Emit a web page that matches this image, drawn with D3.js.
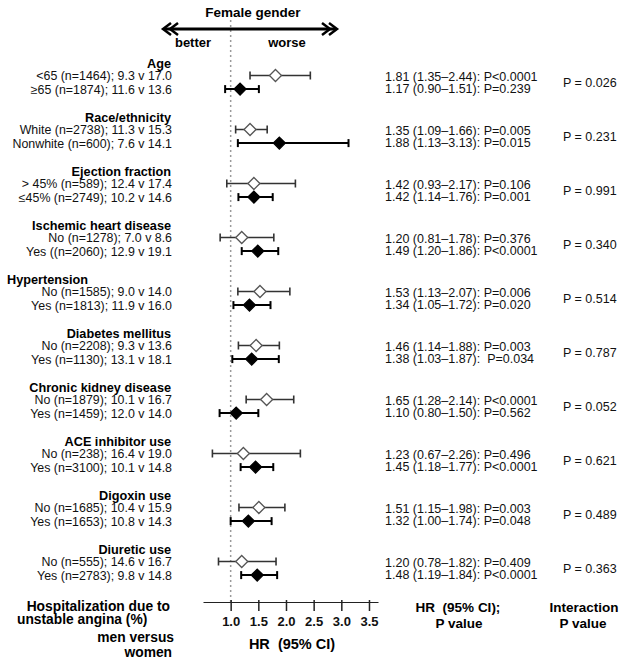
<!DOCTYPE html>
<html>
<head>
<meta charset="utf-8">
<script src="https://cdn.jsdelivr.net/npm/d3@7"></script>
<style>
  html, body { margin: 0; padding: 0; background: #fff; }
  svg { display: block; font-family: "Liberation Sans", Arial, sans-serif; }
  text { white-space: pre; }
</style>
</head>
<body>
<svg id="chart" width="624" height="663"></svg>
<script>
// ---------- data ----------
const groups = ["Age", "Race/ethnicity", "Ejection fraction", "Ischemic heart disease", "Hypertension",
  "Diabetes mellitus", "Chronic kidney disease", "ACE inhibitor use", "Digoxin use", "Diuretic use"];

const labels1 = ["<65 (n=1464); 9.3 v 17.0", "White (n=2738); 11.3 v 15.3", "> 45% (n=589); 12.4 v 17.4",
  "No (n=1278); 7.0 v 8.6", "No (n=1585); 9.0 v 14.0", "No (n=2208); 9.3 v 13.6", "No (n=1879); 10.1 v 16.7",
  "No (n=238); 16.4 v 19.0", "No (n=1685); 10.4 v 15.9", "No (n=555); 14.6 v 16.7"];
const labels2 = ["≥65 (n=1874); 11.6 v 13.6", "Nonwhite (n=600); 7.6 v 14.1", "≤45% (n=2749); 10.2 v 14.6",
  "Yes ((n=2060); 12.9 v 19.1", "Yes (n=1813); 11.9 v 16.0", "Yes (n=1130); 13.1 v 18.1", "Yes (n=1459); 12.0 v 14.0",
  "Yes (n=3100); 10.1 v 14.8", "Yes (n=1653); 10.8 v 14.3", "Yes (n=2783); 9.8 v 14.8"];

const hr1 = [1.81, 1.35, 1.42, 1.20, 1.53, 1.46, 1.65, 1.23, 1.51, 1.20];
const lo1 = [1.35, 1.09, 0.93, 0.81, 1.13, 1.14, 1.28, 0.67, 1.15, 0.78];
const hi1 = [2.44, 1.66, 2.17, 1.78, 2.07, 1.88, 2.14, 2.26, 1.98, 1.82];
const p1  = ["P<0.0001", "P=0.005", "P=0.106", "P=0.376", "P=0.006", "P=0.003", "P<0.0001", "P=0.496", "P=0.003", "P=0.409"];

const hr2 = [1.17, 1.88, 1.42, 1.49, 1.34, 1.38, 1.10, 1.45, 1.32, 1.48];
const lo2 = [0.90, 1.13, 1.14, 1.20, 1.05, 1.03, 0.80, 1.18, 1.00, 1.19];
const hi2 = [1.51, 3.13, 1.76, 1.86, 1.72, 1.87, 1.50, 1.77, 1.74, 1.84];
const p2  = ["P=0.239", "P=0.015", "P=0.001", "P<0.0001", "P=0.020", " P=0.034", "P=0.562", "P<0.0001", "P=0.048", "P<0.0001"];

const interactionP = ["0.026", "0.231", "0.991", "0.340", "0.514", "0.787", "0.052", "0.621", "0.489", "0.363"];

const tickValues = [1.0, 1.5, 2.0, 2.5, 3.0, 3.5];

// ---------- layout ----------
const svg = d3.select("#chart");
const x = d3.scaleLinear().domain([0.5, 3.663]).range([203, 378]);
const yMid = d3.scaleLinear().domain([0, groups.length - 1]).range([82.3, 568.3]);
const rowOff = 6.8, rightOff = 5.8;
const fmt = d3.format(".2f");

// reference dotted line at HR = 1
svg.append("line")
  .attr("x1", x(1)).attr("x2", x(1)).attr("y1", 20).attr("y2", 602)
  .attr("stroke", "#9a9a9a").attr("stroke-width", 1.5).attr("stroke-dasharray", "2,3");

// top annotation
svg.append("text").attr("x", 253).attr("y", 17).attr("text-anchor", "middle")
  .attr("font-weight", "bold").attr("font-size", 13.5).text("Female gender");
const ay = 29, ax0 = 163, ax1 = 337;
svg.append("line").attr("x1", ax0 + 1).attr("x2", ax1 - 1).attr("y1", ay).attr("y2", ay)
  .attr("stroke", "#000").attr("stroke-width", 3);
[[ax0, 1], [ax0 + 7, 1], [ax1, -1], [ax1 - 7, -1]].forEach(([tx, dir]) => {
  svg.append("path")
    .attr("d", `M${tx + dir * 8},${ay - 6} L${tx},${ay} L${tx + dir * 8},${ay + 6}`)
    .attr("fill", "none").attr("stroke", "#000").attr("stroke-width", 2.5);
});
svg.append("text").attr("x", 193).attr("y", 47).attr("text-anchor", "middle")
  .attr("font-weight", "bold").attr("font-size", 13).text("better");
svg.append("text").attr("x", 287).attr("y", 47).attr("text-anchor", "middle")
  .attr("font-weight", "bold").attr("font-size", 13).text("worse");

// rows
const diamond = "M0,-6 L6,0 L0,6 L-6,0 Z";
groups.forEach((g, i) => {
  const m = yMid(i);
  const gy = m - 19.3;
  const hyp = g === "Hypertension";
  svg.append("text").attr("x", hyp ? 7 : 171).attr("y", gy + 4.5)
    .attr("text-anchor", hyp ? "start" : "end")
    .attr("font-weight", "bold").attr("font-size", 12.7).text(g);

  const rows = [
    { label: labels1[i], hr: hr1[i], lo: lo1[i], hi: hi1[i], p: p1[i], y: m - rowOff, ry: m - rightOff, filled: false },
    { label: labels2[i], hr: hr2[i], lo: lo2[i], hi: hi2[i], p: p2[i], y: m + rowOff, ry: m + rightOff, filled: true }
  ];
  rows.forEach(r => {
    svg.append("text").attr("x", 172).attr("y", r.y + 4.4).attr("text-anchor", "end")
      .attr("font-size", 12.4).attr("fill", "#111").text(r.label);
    const col = r.filled ? "#000" : "#333";
    const sw = r.filled ? 2 : 1.6;
    svg.append("line").attr("x1", x(r.lo)).attr("x2", x(r.hi)).attr("y1", r.y).attr("y2", r.y)
      .attr("stroke", col).attr("stroke-width", sw);
    [r.lo, r.hi].forEach(v => {
      svg.append("line").attr("x1", x(v)).attr("x2", x(v)).attr("y1", r.y - 4).attr("y2", r.y + 4)
        .attr("stroke", col).attr("stroke-width", sw);
    });
    svg.append("path").attr("d", diamond)
      .attr("transform", `translate(${x(r.hr)},${r.y})`)
      .attr("fill", r.filled ? "#000" : "#fff")
      .attr("stroke", r.filled ? "#000" : "#555").attr("stroke-width", 1.3);
    svg.append("text").attr("x", 385).attr("y", r.ry + 4.4)
      .attr("font-size", 12.5).attr("fill", "#111")
      .text(`${fmt(r.hr)} (${fmt(r.lo)}–${fmt(r.hi)}): ${r.p}`);
  });
  svg.append("text").attr("x", 563).attr("y", m + 4.4)
    .attr("font-size", 12.5).attr("fill", "#111").text(`P = ${interactionP[i]}`);
});

// axis
const axisG = svg.append("g").attr("transform", "translate(0,602)")
  .call(d3.axisBottom(x).tickValues(tickValues).tickFormat(d3.format(".1f"))
    .tickSizeInner(9).tickSizeOuter(0).tickPadding(6));
axisG.select(".domain").attr("stroke", "#222").attr("stroke-width", 1.2);
axisG.selectAll(".tick line").attr("stroke", "#222").attr("stroke-width", 1.5).attr("y1", -2);
axisG.selectAll(".tick text").attr("font-size", 13).attr("font-weight", "bold").attr("fill", "#111")
  .attr("font-family", "Liberation Sans, Arial, sans-serif");
svg.append("text").attr("x", 292).attr("y", 649).attr("text-anchor", "middle")
  .attr("font-weight", "bold").attr("font-size", 14.5).text("HR  (95% CI)");

// bottom left title
const bl = [
  { t: "Hospitalization due to", x: 170, a: "end", y: 611 },
  { t: "unstable angina (%)", x: 17, a: "start", y: 624 },
  { t: "men versus", x: 174, a: "end", y: 642 },
  { t: "women", x: 172, a: "end", y: 657 }
];
bl.forEach(d => svg.append("text").attr("x", d.x).attr("y", d.y).attr("text-anchor", d.a)
  .attr("font-weight", "bold").attr("font-size", 13.8).text(d.t));

// right column headers
[["HR  (95% CI);", 458, 612], ["P value", 459, 628], ["Interaction", 584, 612], ["P value", 583, 628]]
  .forEach(([t, cx, cy]) => svg.append("text").attr("x", cx).attr("y", cy).attr("text-anchor", "middle")
    .attr("font-weight", "bold").attr("font-size", 13.5).text(t));
</script>
</body>
</html>
